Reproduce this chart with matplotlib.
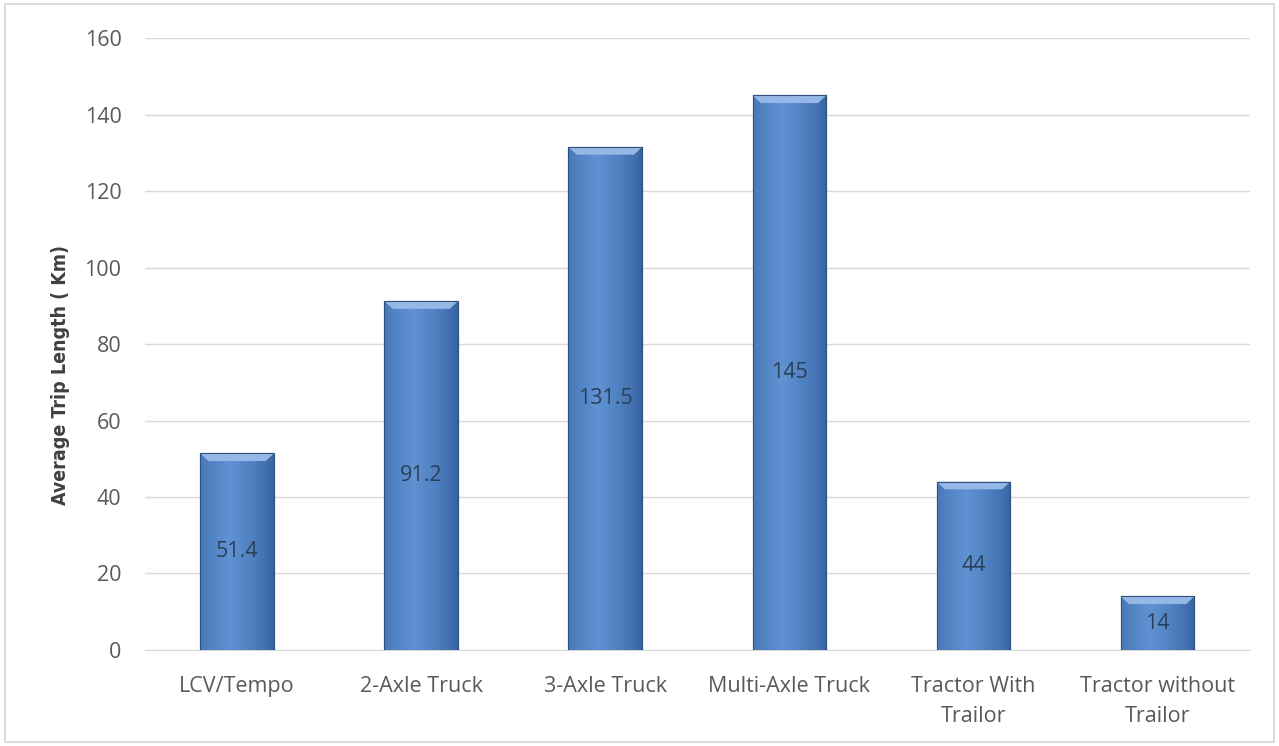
import matplotlib.pyplot as plt
import numpy as np
from matplotlib.patches import Rectangle, Polygon

# --- data ---
categories = ['LCV/Tempo', '2-Axle Truck', '3-Axle Truck', 'Multi-Axle Truck',
              'Tractor With\nTrailor', 'Tractor without\nTrailor']
trip_length = [51.4, 91.2, 131.5, 145, 44, 14]
value_labels = ['51.4', '91.2', '131.5', '145', '44', '14']

plt.rcParams['font.family'] = ['Open Sans', 'DejaVu Sans']

fig = plt.figure(figsize=(12.79, 7.46), dpi=100)
ax = fig.add_axes([0.1134, 0.1287, 0.8636, 0.8203])

# outer border of the picture
fig.patches.append(Rectangle((0.004, 0.006), 0.992, 0.988, transform=fig.transFigure,
                             fill=False, edgecolor='#d4d4d4', linewidth=1.2))

x = np.arange(len(categories))
width = 0.4

bars = ax.bar(x, trip_length, width=width, color='#4a7cc0', edgecolor='#2d527f',
              linewidth=0.8, zorder=3)

# horizontal shading inside each bar
t = np.linspace(0, 1, 200)
prof = np.clip(1 - np.abs(t - 0.4) / 0.6, 0, 1) ** 0.7
dark = np.array([0x33, 0x62, 0x9e]) / 255
light = np.array([0x60, 0x92, 0xd4]) / 255
grad = dark[None, :] * (1 - prof[:, None]) + light[None, :] * prof[:, None]
grad = grad[None, :, :]

bev_h = 2.0
bev_w = 0.045
for rect, h in zip(bars, trip_length):
    x0 = rect.get_x()
    x1 = x0 + rect.get_width()
    im = ax.imshow(grad, extent=(x0, x1, 0, h), aspect='auto', zorder=3.5,
                   interpolation='bilinear')
    im.set_clip_path(rect)
    bevel = Polygon([(x0, h), (x1, h), (x1 - bev_w, h - bev_h), (x0 + bev_w, h - bev_h)],
                    closed=True, facecolor='#95b8e6', edgecolor='none', zorder=3.6)
    ax.add_patch(bevel)
    ax.add_patch(Rectangle((x0, 0), x1 - x0, h, fill=False, edgecolor='#2d527f',
                           linewidth=0.8, zorder=3.7))

for xi, h, lab in zip(x, trip_length, value_labels):
    ax.text(xi, h / 2, lab, ha='center', va='center', fontsize=15.5,
            color='#2b3f58', zorder=5)

ax.set_xlim(-0.5, len(categories) - 0.5)
ax.set_ylim(0, 160)
ax.set_yticks(np.arange(0, 161, 20))
ax.set_xticks(x)
ax.set_xticklabels(categories, fontsize=15.5, color='#595959', linespacing=1.55)
ax.tick_params(axis='y', labelsize=15.5, labelcolor='#595959', length=0, pad=17)
ax.tick_params(axis='x', length=0, pad=19)
ax.grid(axis='y', color='#d9d9d9', linewidth=1, zorder=0)
ax.set_axisbelow(True)
for s in ['top', 'right', 'left']:
    ax.spines[s].set_visible(False)
ax.spines['bottom'].set_color('#d9d9d9')

ax.set_ylabel('Average Trip Length ( Km)', fontsize=14, fontweight='bold',
              fontstretch='condensed', color='#404040', family='DejaVu Sans')
ax.yaxis.set_label_coords(-0.068, 0.45)

fig.savefig('out.png', dpi=100)
